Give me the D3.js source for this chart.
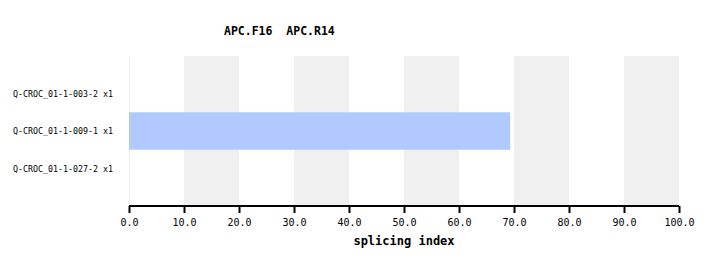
<!DOCTYPE html>
<html><head><meta charset="utf-8">
<script src="https://cdn.jsdelivr.net/npm/d3@7"></script>
<style>body{margin:0;background:#fff;}svg{display:block;}</style>
</head><body>
<script>
const title = "APC.F16\u00a0\u00a0APC.R14";
const categories = ["Q-CROC_01-1-003-2 x1", "Q-CROC_01-1-009-1 x1", "Q-CROC_01-1-027-2 x1"];
const values = [null, 69.3, null];
const tickValues = [0,10,20,30,40,50,60,70,80,90,100];
const bandStarts = [10,30,50,70,90];
const xLabel = "splicing index";

(function(){
const W = 716, H = 266;
const mL = 129, mR = 679, mT = 56, mB = 206;
const mono = "'DejaVu Sans Mono', 'Liberation Mono', monospace";

const svg = d3.select("body").append("svg").attr("width", W).attr("height", H);
const x = d3.scaleLinear().domain([0,100]).range([mL,mR]);
const y = d3.scaleBand().domain(categories).range([mT,mB]).paddingInner(0).paddingOuter(0.5);

svg.selectAll("rect.band").data(bandStarts).enter().append("rect")
  .attr("x", d => x(d)).attr("width", d => x(d+10)-x(d))
  .attr("y", mT).attr("height", mB-mT-1).attr("fill", "#f0f0f0");

svg.append("line").attr("x1", mL+0.5).attr("x2", mL+0.5).attr("y1", mT).attr("y2", mB)
  .attr("stroke", "#eeeeee");

svg.selectAll("rect.bar").data(categories.map((c,i)=>({c, v: values[i]})).filter(d=>d.v!=null))
  .enter().append("rect")
  .attr("x", x(0)).attr("width", d => x(d.v)-x(0))
  .attr("y", d => y(d.c)).attr("height", y.bandwidth())
  .attr("fill", "#b0caff");

svg.selectAll("text.cat").data(categories).enter().append("text")
  .attr("x", 113).attr("y", d => y(d)+y.bandwidth()/2+3)
  .attr("text-anchor", "end").attr("font-family", mono).attr("font-size", "8.3px")
  .text(d => d);

const axis = d3.axisBottom(x).tickValues(tickValues).tickFormat(d3.format(".1f")).tickSize(7).tickSizeOuter(0);
const g = svg.append("g").attr("transform", `translate(0,${mB})`).call(axis);
g.select(".domain").attr("stroke", "#000").attr("stroke-width", 2).attr("d", `M${mL},0H${mR}`);
g.selectAll(".tick line").attr("stroke", "#000").attr("stroke-width", 2);
g.selectAll(".tick text").attr("font-family", mono).attr("font-size", "10px").attr("fill", "#000").attr("dy", "0").attr("y", 20);

svg.append("text").attr("x", (mL+mR)/2).attr("y", 245).attr("text-anchor", "middle")
  .attr("font-family", mono).attr("font-size", "12px").attr("font-weight", "bold").text(xLabel);

svg.append("text").attr("x", 224).attr("y", 35)
  .attr("font-family", mono).attr("font-size", "11.5px").attr("font-weight", "bold").text(title);
})();
</script>
</body></html>
